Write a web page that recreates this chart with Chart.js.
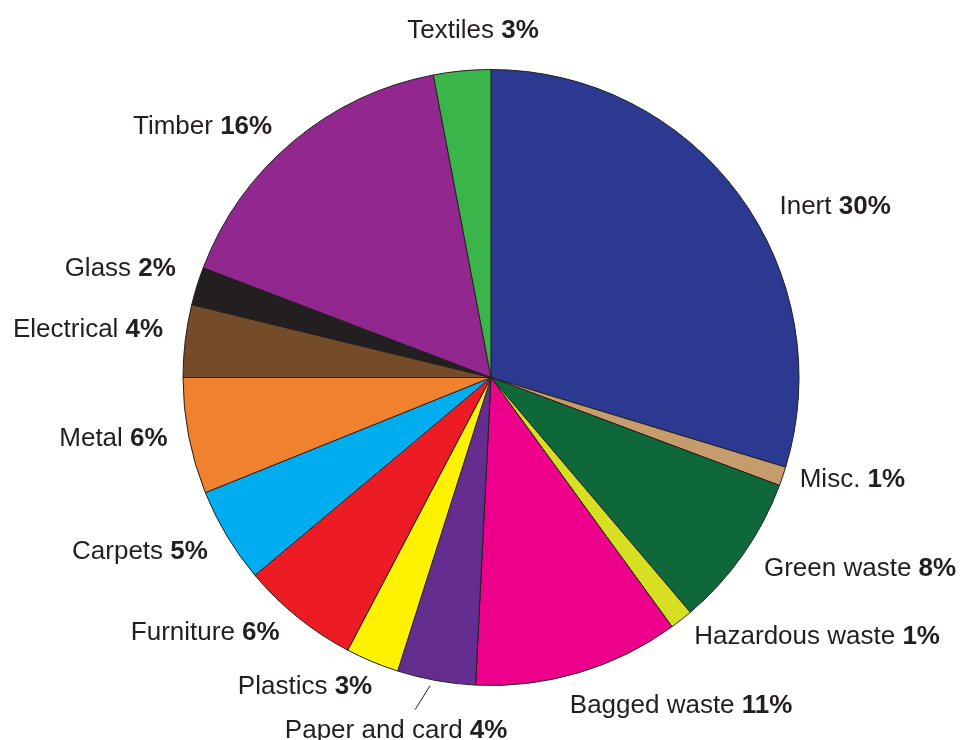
<!DOCTYPE html>
<html>
<head>
<meta charset="utf-8">
<script src="https://cdn.jsdelivr.net/npm/chart.js@4.4.0/dist/chart.umd.min.js"></script>
<style>
  html, body { margin: 0; padding: 0; background: #fff; }
  #wrap { width: 968px; height: 740px; position: relative; }
</style>
</head>
<body>
<div id="wrap"><canvas id="c"></canvas></div>
<script>
// slices clockwise from 12 o'clock
var categories = ['Inert', 'Misc.', 'Green waste', 'Hazardous waste', 'Bagged waste', 'Paper and card',
  'Plastics', 'Furniture', 'Carpets', 'Metal', 'Electrical', 'Glass', 'Timber', 'Textiles'];
// slice sizes
var shares = [29.7, 1.0, 8.1, 1.2, 10.8, 4.1, 2.8, 6.2, 5.0, 6.1, 3.8, 2.0, 16.2, 3.0];
// percentages printed in the labels
var pctLabels = ['30%', '1%', '8%', '1%', '11%', '4%', '3%', '6%', '5%', '6%', '4%', '2%', '16%', '3%'];

var colors = ['#2B3990', '#C69C6D', '#0F6839', '#D7DF23', '#EC008C', '#662D91',
  '#FFF200', '#ED1C24', '#00AEEF', '#F0812F', '#754C29', '#231F20', '#92278F', '#39B54A'];

// label placement: align + nudge from the slice's outer mid point to the text baseline anchor
var labelAlign = ['left', 'left', 'left', 'left', 'left', 'center', 'right', 'right', 'right', 'right', 'right', 'right', 'right', 'center'];
var nudgeX = [41, 17, 21, 13, -9, -40, 0, -18, -19, -21, -22, -21, -21, 11];
var nudgeY = [20, 11, 21, 24, 40, 57, 32, 23, 23, 10, -4, -10, -7, -33];

var FONT = '"Liberation Sans", Arial, Helvetica, sans-serif';
var SIZE = 26;

var labelPlugin = {
  id: 'sliceLabels',
  afterDraw: function(chart) {
    var ctx = chart.ctx;
    var arcs = chart.getDatasetMeta(0).data;
    ctx.save();
    ctx.fillStyle = '#231F20';
    ctx.textBaseline = 'alphabetic';
    arcs.forEach(function(arc, i) {
      var p = arc.getProps(['x', 'y', 'startAngle', 'endAngle', 'outerRadius'], true);
      var mid = (p.startAngle + p.endAngle) / 2;
      var ax = p.x + Math.cos(mid) * p.outerRadius;
      var ay = p.y + Math.sin(mid) * p.outerRadius;
      var tx = ax + nudgeX[i];
      var ty = ay + nudgeY[i];
      var name = categories[i] + ' ';
      var pct = pctLabels[i];
      ctx.font = SIZE + 'px ' + FONT;
      var w1 = ctx.measureText(name).width;
      ctx.font = 'bold ' + SIZE + 'px ' + FONT;
      var w2 = ctx.measureText(pct).width;
      var total = w1 + w2;
      var left = tx;
      if (labelAlign[i] === 'right') left = tx - total;
      else if (labelAlign[i] === 'center') left = tx - total / 2;
      ctx.textAlign = 'left';
      ctx.font = SIZE + 'px ' + FONT;
      ctx.fillText(name, left, ty);
      ctx.font = 'bold ' + SIZE + 'px ' + FONT;
      ctx.fillText(pct, left + w1, ty);
      // leader line for the small bottom slice
      if (i === 5) {
        ctx.strokeStyle = '#231F20';
        ctx.lineWidth = 1;
        ctx.beginPath();
        ctx.moveTo(ax - 6, ay + 5);
        ctx.lineTo(ax - 21, ay + 29);
        ctx.stroke();
      }
    });
    ctx.restore();
  }
};

var ctx = document.getElementById('c').getContext('2d');
var chart = new Chart(ctx, {
  type: 'pie',
  data: {
    labels: categories,
    datasets: [{
      data: shares,
      backgroundColor: colors,
      borderColor: '#231F20',
      borderWidth: 1
    }]
  },
  options: {
    responsive: true,
    maintainAspectRatio: false,
    animation: false,
    layout: { padding: { top: 69, bottom: 54, left: 175, right: 161 } },
    plugins: {
      legend: { display: false },
      tooltip: { enabled: false }
    }
  },
  plugins: [labelPlugin]
});
</script>
</body>
</html>
